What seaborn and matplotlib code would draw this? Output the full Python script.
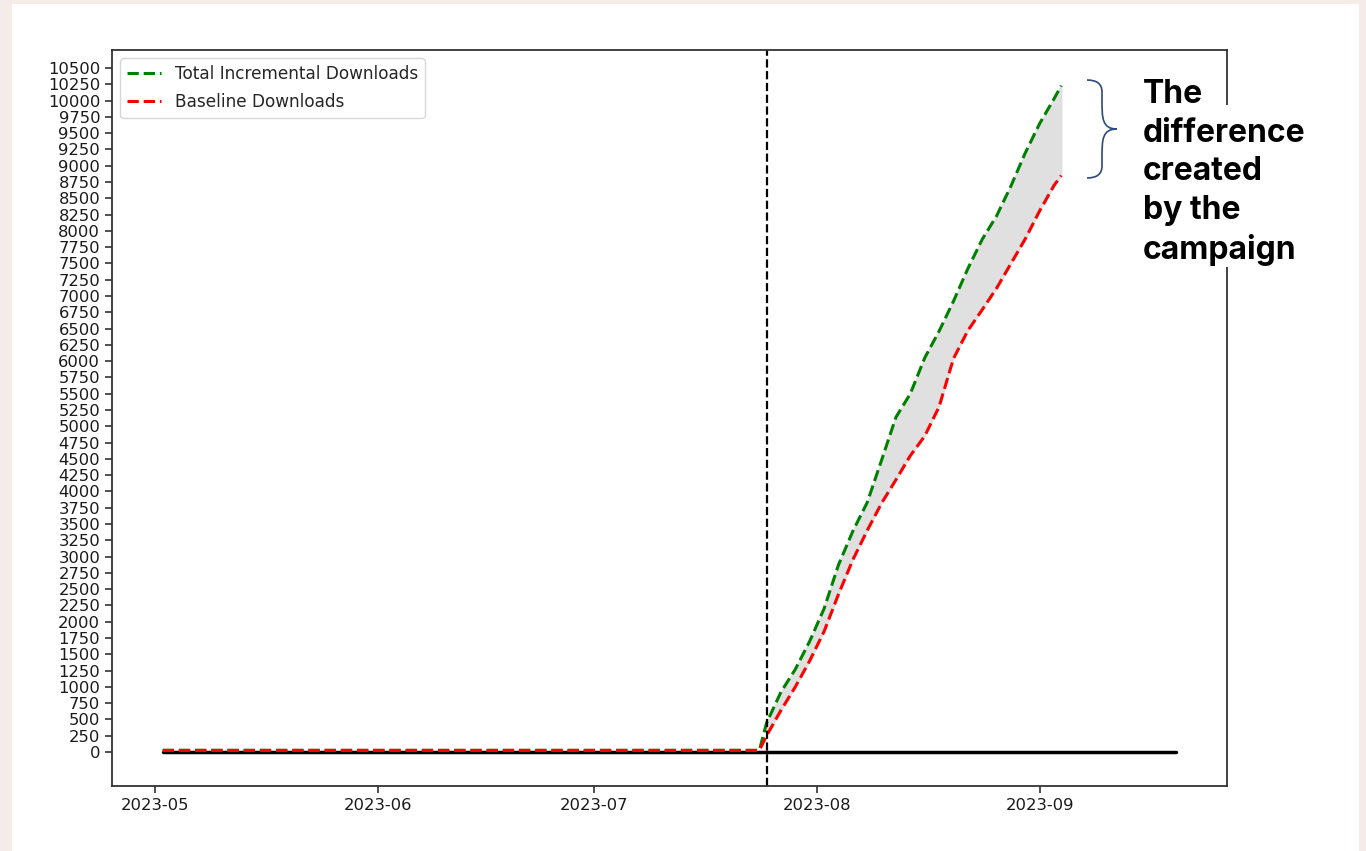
import pandas as pd
import seaborn as sns
import matplotlib.pyplot as plt
import matplotlib.dates as mdates
from matplotlib.patches import Rectangle, PathPatch
from matplotlib.path import Path

# data
dates = ['2023-05-02', '2023-05-25', '2023-06-15', '2023-07-05', '2023-07-24',
         '2023-07-25', '2023-07-27', '2023-07-29', '2023-07-31', '2023-08-02',
         '2023-08-04', '2023-08-06', '2023-08-08', '2023-08-10', '2023-08-12',
         '2023-08-14', '2023-08-16', '2023-08-18', '2023-08-20', '2023-08-22',
         '2023-08-24', '2023-08-26', '2023-08-28', '2023-08-30', '2023-09-01',
         '2023-09-03', '2023-09-04']
total_incremental = [25, 25, 25, 25, 25,
                     445, 920, 1270, 1700, 2200, 2870, 3390, 3830, 4480, 5140,
                     5500, 6050, 6460, 6920, 7420, 7870, 8230, 8690, 9200, 9650,
                     10030, 10230]
baseline = [25, 25, 25, 25, 25,
            250, 640, 1000, 1400, 1850, 2420, 2950, 3400, 3820, 4180,
            4550, 4850, 5300, 6040, 6470, 6790, 7120, 7500, 7880, 8310,
            8700, 8850]
zero_dates = ['2023-05-02', '2023-09-20']
zero_values = [0, 0]
campaign_start = '2023-07-25'

df = pd.DataFrame({'date': pd.to_datetime(dates),
                   'total': total_incremental,
                   'baseline': baseline})
zero = pd.DataFrame({'date': pd.to_datetime(zero_dates), 'value': zero_values})

sns.set_style('ticks')
plt.rcParams['font.family'] = ['DejaVu Sans']

W, H = 1366, 851
fig = plt.figure(figsize=(W / 100, H / 100), dpi=100, facecolor='#f5ece9')
fig.add_artist(Rectangle((12 / W, 0), (1359 - 12) / W, 1 - 4 / H,
                         transform=fig.transFigure, facecolor='white',
                         edgecolor='none', zorder=-1))
ax = fig.add_axes([112 / W, 1 - 786 / H, (1227 - 112) / W, (786 - 50) / H])

sns.lineplot(data=zero, x='date', y='value', ax=ax, color='black', linewidth=2.5)
sns.lineplot(data=df, x='date', y='total', ax=ax, color='green', linestyle='--',
             linewidth=2.2, label='Total Incremental Downloads')
sns.lineplot(data=df, x='date', y='baseline', ax=ax, color='red', linestyle='--',
             linewidth=2.2, label='Baseline Downloads')
ax.axvline(pd.to_datetime(campaign_start), color='black', linestyle='--', linewidth=1.6)

post = df[df['date'] >= pd.to_datetime(campaign_start)]
ax.fill_between(post['date'], post['baseline'], post['total'], color='#e0e0e0', zorder=1)

ax.set_yticks(range(0, 10501, 250))
ax.set_ylim(-522, 10777)
ax.xaxis.set_major_locator(mdates.MonthLocator())
ax.xaxis.set_major_formatter(mdates.DateFormatter('%Y-%m'))
ax.set_xlabel('')
ax.set_ylabel('')
ax.tick_params(labelsize=11.8, length=5, width=1.2, colors='#333333', labelcolor='#1a1a1a')
for s in ax.spines.values():
    s.set_linewidth(1.3)
    s.set_color('#333333')

leg = ax.legend(loc='upper left', fontsize=12.2, handlelength=2.0, labelspacing=0.6)

# white box hiding the right spine behind the note
fig.add_artist(Rectangle((1205 / W, 1 - 267 / H), 40 / W, (267 - 105) / H,
                         transform=fig.transFigure, facecolor='white',
                         edgecolor='none', zorder=3))
fig.text(1143 / W, 1 - 79 / H, 'The\ndifference\ncreated\nby the\ncampaign',
         ha='left', va='top', fontsize=23, fontweight='bold', family='Inter',
         linespacing=1.32, color='black', zorder=4)

# curly brace
def p(x, y):
    return (x / W, 1 - y / H)

verts = [p(1087, 80), p(1102, 80), p(1102, 92), p(1102, 100),
         p(1102, 118), p(1102, 129), p(1117, 129),
         p(1102, 129), p(1102, 140), p(1102, 158),
         p(1102, 166), p(1102, 178), p(1087, 178)]
codes = [Path.MOVETO, Path.CURVE3, Path.CURVE3, Path.LINETO,
         Path.CURVE4, Path.CURVE4, Path.CURVE4,
         Path.CURVE4, Path.CURVE4, Path.CURVE4,
         Path.LINETO, Path.CURVE3, Path.CURVE3]
fig.add_artist(PathPatch(Path(verts, codes), transform=fig.transFigure,
                         facecolor='none', edgecolor='#2b4a7e', linewidth=1.2, zorder=4))

fig.savefig('out.png', dpi=100, facecolor=fig.get_facecolor())
